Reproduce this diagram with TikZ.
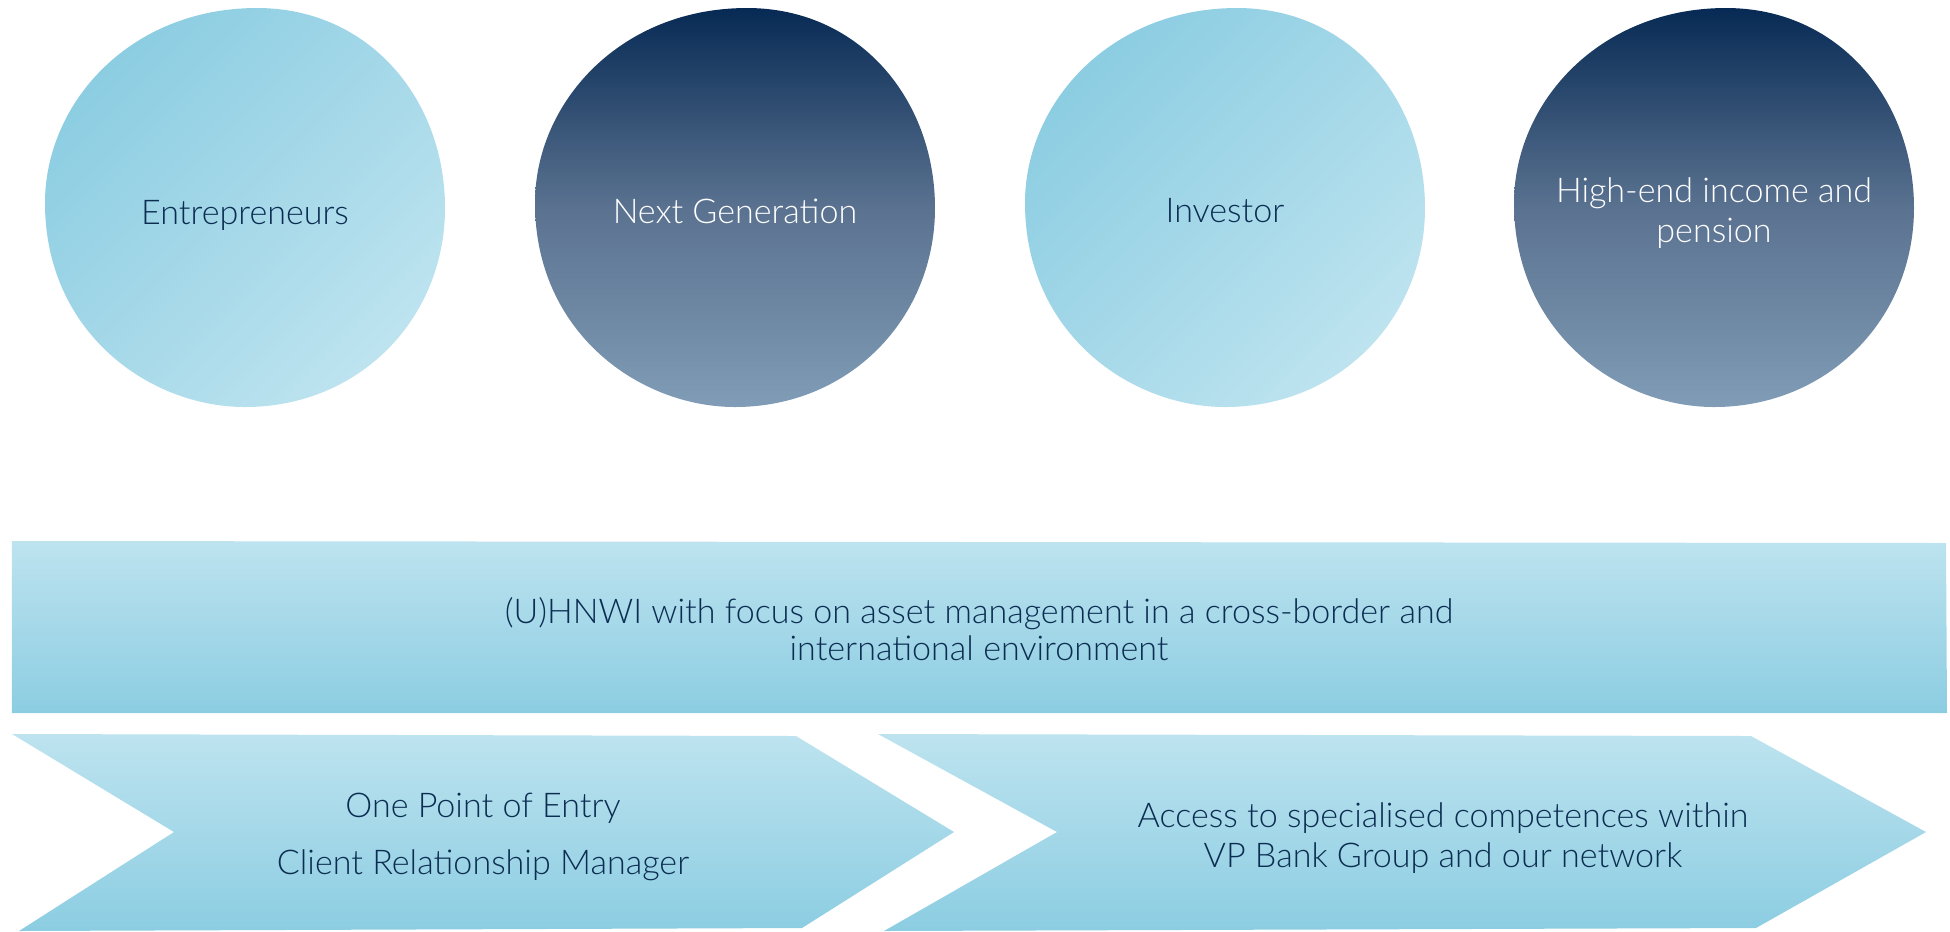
\documentclass[tikz,border=0pt]{standalone}
\usepackage{fontspec}
\setmainfont{Lato Light}
\usetikzlibrary{positioning}
\definecolor{navy}{HTML}{0C2D52}
\definecolor{lightblue}{HTML}{BDE3EF}
\definecolor{midblue}{HTML}{8CCDE2}
\definecolor{darknavy}{HTML}{072A54}
\definecolor{slate}{HTML}{5A7290}
\definecolor{greyblue}{HTML}{809CB6}

\tikzset{
  lightblob/.style={top color=midblue, bottom color=lightblue, shading angle=45},
  darkblob/.style={top color=darknavy, bottom color=greyblue, middle color=slate},
  band/.style={top color=lightblue, bottom color=midblue},
  txt/.style={text=navy, align=center, font=\fontsize{9.7}{10.4}\selectfont},
}
\newcommand{\blob}[2]{\shade[#1, shift={#2}] (0.12,2.00) .. controls (1.25,2.00) and (2.00,1.08) .. (2.00,0)
  .. controls (2.00,-1.10) and (1.15,-1.99) .. (0,-1.99)
  .. controls (-0.95,-1.99) and (-2.00,-1.25) .. (-2.00,0.05)
  .. controls (-2.00,1.05) and (-1.15,2.00) .. cycle;}

\begin{document}
\begin{tikzpicture}
\useasboundingbox (0,0) rectangle (19.5,-9.31);

% client segments
\blob{lightblob}{(2.45,-2.08)}
\blob{darkblob}{(7.35,-2.08)}
\blob{lightblob}{(12.25,-2.08)}
\blob{darkblob}{(17.14,-2.08)}
\node[txt] (ent) at (2.45,-2.15) {Entrepreneurs};
\node[txt, text=white] (nextgen) at (7.35,-2.11) {Next Generation};
\node[txt] (inv) at (12.25,-2.11) {Investor};
\node[txt, text=white] (highend) at (17.14,-2.13) {High-end income and\\[1.2pt]pension};

% banner
\shade[band] (0.12,-5.41) -- (19.46,-5.43) -- (19.47,-7.13) -- (0.12,-7.13) -- cycle;
\node[txt] (hnwi) at (9.79,-6.29) {(U)HNWI with focus on asset management in a cross-border and\\ international environment};

% chevrons
\shade[band] (0.12,-7.34) -- (7.96,-7.36) -- (9.54,-8.32) -- (8.02,-9.28) -- (0.19,-9.31) -- (1.74,-8.32) -- cycle;
\shade[band] (8.78,-7.34) -- (17.51,-7.36) -- (19.26,-8.32) -- (17.56,-9.28) -- (8.84,-9.31) -- (10.57,-8.32) -- cycle;
\node[txt] (entry) at (4.83,-8.37) {One Point of Entry\\[6pt]Client Relationship Manager};
\node[txt] (access) at (14.43,-8.38) {Access to specialised competences within\\[0.8pt]VP Bank Group and our network};
\end{tikzpicture}
\end{document}
